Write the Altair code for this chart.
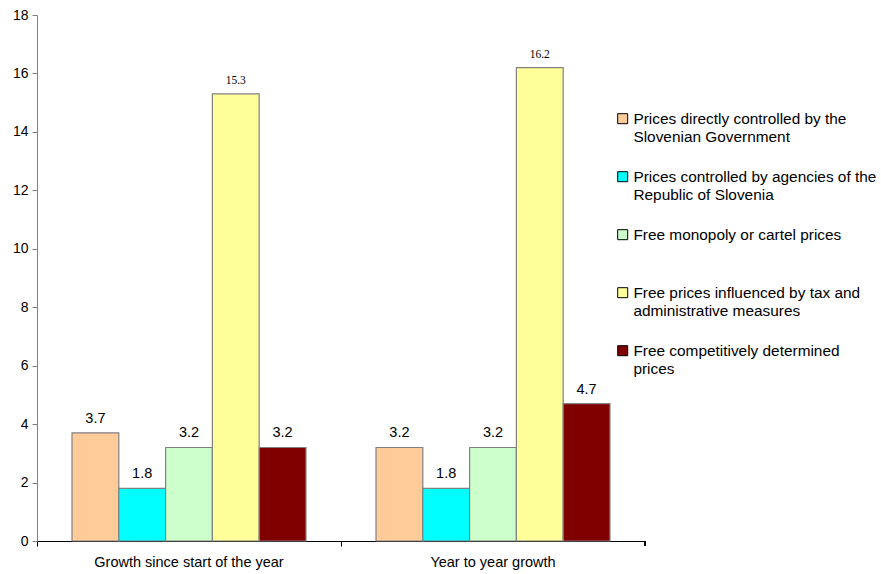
import altair as alt
import pandas as pd

# Categories, series and values
groups = ["Growth since start of the year", "Year to year growth"]
series = [
    "Prices directly controlled by the Slovenian Government",
    "Prices controlled by agencies of the Republic of Slovenia",
    "Free monopoly or cartel prices",
    "Free prices influenced by tax and administrative measures",
    "Free competitively determined prices",
]
# legend text split into lines
series_lines = [
    ["Prices directly controlled by the", "Slovenian Government"],
    ["Prices controlled by agencies of the", "Republic of Slovenia"],
    ["Free monopoly or cartel prices"],
    ["Free prices influenced by tax and", "administrative measures"],
    ["Free competitively determined", "prices"],
]
growth_since_start = [3.7, 1.8, 3.2, 15.3, 3.2]
year_to_year = [3.2, 1.8, 3.2, 16.2, 4.7]
colors = ["#FFCC99", "#00FFFF", "#CCFFCC", "#FFFF99", "#800000"]

rows = []
for g, vals in zip(groups, [growth_since_start, year_to_year]):
    for i, (s, v) in enumerate(zip(series, vals)):
        rows.append({"group": g, "series": s, "order": i, "value": v})
df = pd.DataFrame(rows)

# multi-line legend labels
label_expr = ""
for s, lines in zip(series, series_lines):
    arr = "[" + ",".join("'" + l + "'" for l in lines) + "]"
    label_expr += f"datum.label == '{s}' ? {arr} : "
label_expr += "datum.label"

W, H = 608, 526

x = alt.X("group:N", sort=groups, title=None,
          scale=alt.Scale(paddingInner=0, paddingOuter=0),
          axis=alt.Axis(labelAngle=0, bandPosition=0, tickSize=5, labelPadding=9,
                        labelLimit=400,
                        labelFont="Liberation Sans", labelFontSize=14.5, labelColor="#000000",
                        domainColor="#000000", tickColor="#000000"))
xo = alt.XOffset("series:N", sort=series, scale=alt.Scale(paddingInner=0, paddingOuter=0.748))
y = alt.Y("value:Q", title=None,
          scale=alt.Scale(domain=[0, 18], nice=False),
          axis=alt.Axis(values=list(range(0, 19, 2)), grid=False, tickSize=5,
                        labelFont="Liberation Sans", labelFontSize=14, labelColor="#000000",
                        labelPadding=4, domainColor="#808080", tickColor="#808080"))

base = alt.Chart(df)

bars = base.mark_bar(stroke="#808080", strokeWidth=1.2).encode(
    x=x, xOffset=xo, y=y,
    fill=alt.Fill("series:N", sort=series,
                  scale=alt.Scale(domain=series, range=colors),
                  legend=alt.Legend(title=None, orient="none", legendX=578, legendY=96,
                                    symbolType="square", symbolSize=100,
                                    symbolStrokeColor="#000000", symbolStrokeWidth=1,
                                    labelFont="Liberation Sans", labelFontSize=15.4,
                                    labelColor="#000000", labelLimit=400,
                                    labelExpr=label_expr, labelBaseline="middle",
                                    gridAlign="all", rowPadding=23, labelOffset=3)),
)

labels_small = base.transform_filter("datum.value < 10").mark_text(
    dy=-7, baseline="bottom", font="Liberation Sans", fontSize=14.5, color="#000000"
).encode(x=x, xOffset=xo, y=y, text=alt.Text("value:Q", format=".1f"))

labels_big = base.transform_filter("datum.value >= 10").mark_text(
    dy=-8, baseline="bottom", font="Liberation Serif", fontSize=11.5, color="#000000"
).encode(x=x, xOffset=xo, y=y, text=alt.Text("value:Q", format=".1f"))

# closing tick at the right end of the category axis
end_tick = base.mark_rule(color="#000000").encode(
    x=alt.value(W), y=alt.value(H), y2=alt.value(H + 5)
)

chart = alt.layer(bars, labels_small, labels_big, end_tick).properties(
    width=W, height=H,
    autosize=alt.AutoSizeParams(type="none"),
    padding={"left": 37, "top": 15, "right": 881 - 37 - W, "bottom": 574 - 15 - H},
).configure(
    background="#FFFFFF",
    view=alt.ViewConfig(strokeWidth=0, strokeOpacity=0),
    style={"guide-label": {"lineHeight": 18}},
)

chart.save("out.html", embed_options={"renderer": "svg", "actions": False})
